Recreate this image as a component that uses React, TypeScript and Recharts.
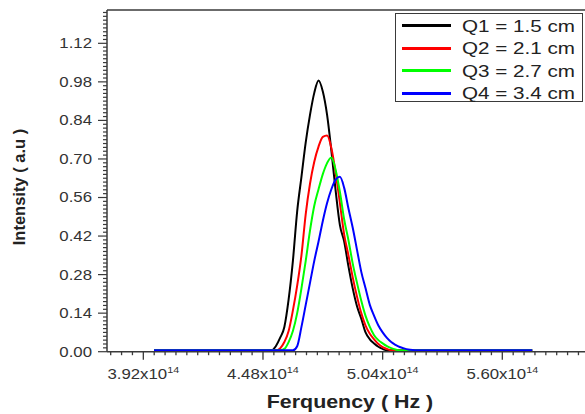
import { Label, Legend, Line, LineChart, ReferenceLine, XAxis, YAxis } from "recharts";

// Frequency grid, in units of 10^14 Hz
const freq = [
  3.97, 4.5, 4.52, 4.54, 4.56, 4.58, 4.6, 4.62, 4.64, 4.66, 4.68, 4.7, 4.72,
  4.74, 4.76, 4.78, 4.8, 4.82, 4.84, 4.86, 4.88, 4.9, 4.92, 4.94, 4.96, 4.98,
  5.0, 5.02, 5.04, 5.06, 5.08, 5.1, 5.12, 5.14, 5.16, 5.18, 5.2, 5.74,
];

const q1 = [
  0.005, 0.005, 0.005, 0.02, 0.05, 0.09, 0.19, 0.33, 0.51, 0.635, 0.76, 0.86,
  0.94, 0.985, 0.945, 0.86, 0.73, 0.585, 0.46, 0.4, 0.31, 0.23, 0.165, 0.12,
  0.07, 0.045, 0.03, 0.018, 0.01, 0.005, 0.005, 0.005, 0.005, 0.005, 0.005,
  0.005, 0.005, 0.005,
];

const q2 = [
  0.005, 0.005, 0.005, 0.005, 0.012, 0.035, 0.075, 0.15, 0.24, 0.35, 0.5,
  0.61, 0.69, 0.745, 0.78, 0.785, 0.74, 0.65, 0.54, 0.425, 0.35, 0.27, 0.2,
  0.14, 0.095, 0.065, 0.045, 0.028, 0.017, 0.01, 0.005, 0.005, 0.005, 0.005,
  0.005, 0.005, 0.005, 0.005,
];

const q3 = [
  0.005, 0.005, 0.005, 0.005, 0.005, 0.01, 0.035, 0.075, 0.14, 0.23, 0.33,
  0.44, 0.53, 0.59, 0.645, 0.685, 0.705, 0.66, 0.58, 0.48, 0.405, 0.32, 0.25,
  0.185, 0.13, 0.09, 0.06, 0.042, 0.03, 0.02, 0.013, 0.008, 0.005, 0.005,
  0.005, 0.005, 0.005, 0.005,
];

const q4 = [
  0.005, 0.005, 0.005, 0.005, 0.005, 0.005, 0.005, 0.005, 0.02, 0.09, 0.17,
  0.25, 0.33, 0.4, 0.475, 0.54, 0.59, 0.625, 0.635, 0.595, 0.52, 0.45, 0.37,
  0.29, 0.23, 0.17, 0.13, 0.095, 0.07, 0.05, 0.035, 0.025, 0.017, 0.012,
  0.008, 0.006, 0.005, 0.005,
];

const seriesNames = ["Q1 = 1.5 cm", "Q2 = 2.1 cm", "Q3 = 2.7 cm", "Q4 = 3.4 cm"];
const seriesKeys = ["q1", "q2", "q3", "q4"];
const seriesColors = ["#000000", "#ff0000", "#00ff00", "#0000ff"];

const xMajor = [3.92, 4.48, 5.04, 5.6];
const yMajor = [0, 0.14, 0.28, 0.42, 0.56, 0.7, 0.84, 0.98, 1.12];

const X_DOMAIN: [number, number] = [3.75, 5.987];
const Y_DOMAIN: [number, number] = [0, 1.241];

const data = freq.map((f, i) => ({ f, q1: q1[i], q2: q2[i], q3: q3[i], q4: q4[i] }));

// minor ticks: 11 steps between x majors, 10 between y majors
const xTicks: number[] = [];
for (let i = -4; i < 50; i++) {
  const v = +(3.92 + (i * 0.56) / 11).toFixed(5);
  if (v >= X_DOMAIN[0] && v <= X_DOMAIN[1]) xTicks.push(v);
}
const yTicks: number[] = [];
for (let i = 0; i <= 88; i++) {
  const v = +(i * 0.014).toFixed(4);
  if (v <= Y_DOMAIN[1]) yTicks.push(v);
}

const AXIS = "#3a3a3a";
const FONT = "Arial, 'Liberation Sans', sans-serif";

const isMajor = (list: number[], v: number) => list.some((m) => Math.abs(m - v) < 1e-4);

function FreqTick({ x, y, payload }: any) {
  const v = payload.value as number;
  const major = isMajor(xMajor, v);
  return (
    <g>
      <path d={`M${x},${y}V${y + (major ? 8 : 3.5)}`} stroke={AXIS} strokeWidth={1.3} fill="none" />
      {major && (
        <text
          transform={`translate(${x},${y + 27}) scale(1.2,1)`}
          textAnchor="middle"
          fontSize={14}
          fontFamily={FONT}
          fill="#333"
        >
          {v.toFixed(2)}x10
          <tspan dy={-6} fontSize={9}>
            14
          </tspan>
        </text>
      )}
    </g>
  );
}

function IntensityTick({ y, payload }: any) {
  const v = payload.value as number;
  const major = isMajor(yMajor, v);
  const ax = 107;
  return (
    <g>
      <path d={`M${ax},${y}H${ax - (major ? 9 : 4)}`} stroke={AXIS} strokeWidth={1.2} fill="none" />
      {major && (
        <text
          transform={`translate(${ax - 15},${y}) scale(1.2,1)`}
          textAnchor="end"
          dominantBaseline="central"
          fontSize={14}
          fontFamily={FONT}
          fill="#333"
        >
          {v.toFixed(2)}
        </text>
      )}
    </g>
  );
}

function LegendBox() {
  return (
    <div
      style={{
        width: 188,
        height: 89,
        boxSizing: "border-box",
        border: `1px solid ${AXIS}`,
        background: "#fff",
        paddingTop: 1,
      }}
    >
      {seriesNames.map((name, i) => (
        <div key={name} style={{ display: "flex", alignItems: "center", height: 22.5 }}>
          <div
            style={{
              marginLeft: 6,
              width: 49,
              height: 3,
              background: seriesColors[i],
            }}
          />
          <span
            style={{
              marginLeft: 11,
              fontFamily: FONT,
              fontSize: 16.5,
              color: "#222",
              transform: "scaleX(1.25)",
              transformOrigin: "left center",
              whiteSpace: "nowrap",
              lineHeight: "22px",
            }}
          >
            {name}
          </span>
        </div>
      ))}
    </div>
  );
}

export default function App() {
  return (
    <div
      style={{
        position: "absolute",
        left: 0,
        top: 0,
        width: 585,
        height: 414,
        background: "#fff",
        overflow: "hidden",
      }}
    >
      <LineChart width={585} height={414} data={data} margin={{ top: 10, right: 0, left: 0, bottom: 0 }}>
        <XAxis
          dataKey="f"
          type="number"
          domain={X_DOMAIN}
          allowDataOverflow
          ticks={xTicks}
          interval={0}
          tick={<FreqTick />}
          tickLine={false}
          tickSize={0}
          tickMargin={0}
          height={62.3}
          axisLine={{ stroke: AXIS, strokeWidth: 1.5 }}
        >
          <Label
            content={() => (
              <text
                transform="translate(350,408) scale(1.19,1)"
                textAnchor="middle"
                fontSize={18}
                fontWeight="bold"
                fontFamily={FONT}
                fill="#222"
              >
                Ferquency ( Hz )
              </text>
            )}
          />
        </XAxis>
        <YAxis
          type="number"
          domain={Y_DOMAIN}
          allowDataOverflow
          ticks={yTicks}
          interval={0}
          tick={<IntensityTick />}
          tickLine={false}
          tickSize={0}
          tickMargin={0}
          width={107}
          axisLine={{ stroke: AXIS, strokeWidth: 1.5 }}
        >
          <Label
            content={() => (
              <text
                transform="translate(19,187) rotate(-90)"
                textAnchor="middle"
                dominantBaseline="central"
                fontSize={16.5}
                fontWeight="bold"
                fontFamily={FONT}
                fill="#222"
              >
                Intensity ( a.u )
              </text>
            )}
          />
        </YAxis>
        <ReferenceLine y={Y_DOMAIN[1]} stroke={AXIS} strokeWidth={1.5} />
        {seriesKeys.map((k, i) => (
          <Line
            key={k}
            dataKey={k}
            name={seriesNames[i]}
            type="monotone"
            stroke={seriesColors[i]}
            strokeWidth={2}
            dot={false}
            activeDot={false}
            isAnimationActive={false}
          />
        ))}
        <Legend
          layout="horizontal"
          verticalAlign="middle"
          align="center"
          wrapperStyle={{ left: 395, top: 12.5, width: 188, height: 89 }}
          content={() => <LegendBox />}
        />
      </LineChart>
    </div>
  );
}
